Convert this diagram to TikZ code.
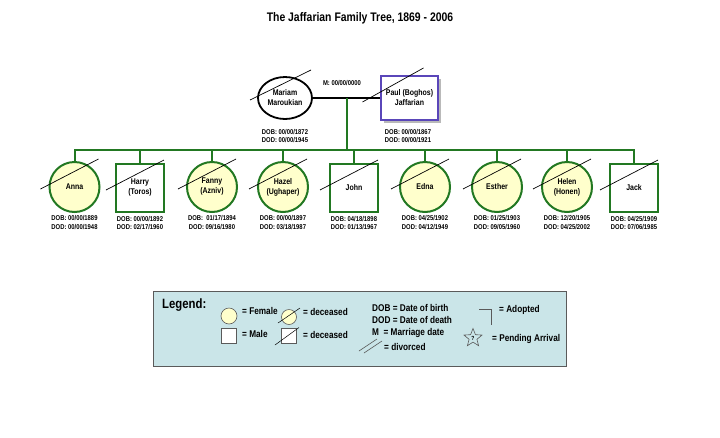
\documentclass[tikz,border=0pt]{standalone}
\usepackage{fontspec}
\setmainfont{Liberation Sans}[FakeStretch=0.84]
\usetikzlibrary{shapes.geometric, positioning, shadows}
\definecolor{kingreen}{RGB}{34,120,34}
\definecolor{femaleyellow}{RGB}{255,255,204}
\definecolor{paulblue}{RGB}{90,70,185}
\definecolor{legendbg}{RGB}{202,229,232}
\definecolor{legendline}{RGB}{90,90,90}

\begin{document}
\begin{tikzpicture}[x=1pt, y=-1pt,
    female/.style={circle, draw=kingreen, fill=femaleyellow, line width=2pt, minimum size=50pt, inner sep=0pt, align=center, font=\fontsize{8.3}{10}\selectfont\bfseries},
    male/.style={rectangle, draw=kingreen, fill=white, line width=2pt, minimum size=48pt, inner sep=0pt, align=center, font=\fontsize{8.3}{10}\selectfont\bfseries},
    dates/.style={font=\fontsize{7}{8.6}\selectfont\bfseries, align=center, inner sep=0pt},
    kin/.style={draw=kingreen, line width=2pt},
    slash/.style={black, line width=0.7pt},
    legtext/.style={anchor=west, inner sep=0pt, font=\fontsize{9.8}{12.3}\selectfont\bfseries, align=left},
    legsym/.style={draw=legendline, line width=0.6pt, inner sep=0pt}
]
    \useasboundingbox (0,0) rectangle (720,437);

    % Title
    \node[font=\fontsize{12.4}{14}\selectfont\bfseries] (title) at (360,18)
        {The Jaffarian Family Tree, 1869 - 2006};

    % Parents
    \node[ellipse, draw=black, fill=white, line width=1.8pt, minimum width=54pt, minimum height=42pt,
        inner sep=0pt, align=center, font=\fontsize{8.3}{10}\selectfont\bfseries] (mariam) at (285,98)
        {Mariam\\Maroukian};
    \node[rectangle, draw=paulblue, fill=white, line width=2pt, minimum width=57pt, minimum height=44pt,
        inner sep=0pt, align=center, font=\fontsize{8.3}{10}\selectfont\bfseries,
        drop shadow={shadow xshift=2.5pt, shadow yshift=-2.5pt, fill=gray!55, opacity=1}] (paul) at (409.5,98)
        {Paul (Boghos)\\Jaffarian};
    \node[dates] (mariamd) at (285,136) {DOB: 00/00/1872\\DOD: 00/00/1945};
    \node[dates] (pauld) at (408,136) {DOB: 00/00/1867\\DOD: 00/00/1921};

    % Marriage
    \draw[black, line width=2pt] (mariam) -- (paul);
    \node[dates] (mdate) at (342,83) {M: 00/00/0000};
    \coordinate (mid) at (347,98);
    \coordinate (bar) at (347,150);

    % Children
    \node[female] (anna)   at (74.5,187) {Anna};
    \node[male]   (harry)  at (140,188)  {Harry\\(Toros)};
    \node[female] (fanny)  at (212,187)  {Fanny\\(Azniv)};
    \node[female] (hazel)  at (283,187)  {Hazel\\(Ughaper)};
    \node[male]   (john)   at (354,188)  {John};
    \node[female] (edna)   at (425,187)  {Edna};
    \node[female] (esther) at (497,187)  {Esther};
    \node[female] (helen)  at (567,187)  {Helen\\(Honen)};
    \node[male]   (jack)   at (634,188)  {Jack};

    % Lines of descent
    \draw[kin] (mid) -- (bar);
    \draw[kin] (anna.north) |- (bar) -| (jack.north);
    \draw[kin] (bar -| harry) -- (harry.north);
    \draw[kin] (bar -| fanny) -- (fanny.north);
    \draw[kin] (bar -| hazel) -- (hazel.north);
    \draw[kin] (bar -| john) -- (john.north);
    \draw[kin] (bar -| edna) -- (edna.north);
    \draw[kin] (bar -| esther) -- (esther.north);
    \draw[kin] (bar -| helen) -- (helen.north);

    % Deceased marks
    \draw[slash] ([shift={(-35,2)}]mariam.center) -- ([shift={(26,-28)}]mariam.center);
    \draw[slash] ([shift={(-47,4)}]paul.center) -- ([shift={(14,-30)}]paul.center);
    \foreach \kid in {anna,harry,fanny,hazel,john,edna,esther,helen,jack}
        \draw[slash] ([shift={(-34,2)}]\kid.center) -- ([shift={(24,-28)}]\kid.center);

    % Dates
    \node[dates, below=2.5pt of anna]   (annad)   {DOB: 00/00/1889\\DOD: 00/00/1948};
    \node[dates, below=3pt of harry]    (harryd)  {DOB: 00/00/1892\\DOD: 02/17/1960};
    \node[dates, below=2.5pt of fanny]  (fannyd)  {DOB:\ \ 01/17/1894\\DOD: 09/16/1980};
    \node[dates, below=2.5pt of hazel]  (hazeld)  {DOB: 00/00/1897\\DOD: 03/18/1987};
    \node[dates, below=3pt of john]     (johnd)   {DOB: 04/18/1898\\DOD: 01/13/1967};
    \node[dates, below=2.5pt of edna]   (ednad)   {DOB: 04/25/1902\\DOD: 04/12/1949};
    \node[dates, below=2.5pt of esther] (estherd) {DOB: 01/25/1903\\DOD: 09/05/1960};
    \node[dates, below=2.5pt of helen]  (helend)  {DOB: 12/20/1905\\DOD: 04/25/2002};
    \node[dates, below=3pt of jack]     (jackd)   {DOB: 04/25/1909\\DOD: 07/06/1985};

    % Legend
    \node[rectangle, draw=legendline, fill=legendbg, line width=0.8pt, minimum width=413pt, minimum height=75pt]
        (legend) at (360,328.5) {};
    \node[anchor=west, inner sep=0pt, font=\fontsize{13.5}{15}\selectfont\bfseries] (legtitle) at (162,305) {Legend:};

    \node[legsym, circle, fill=femaleyellow, minimum size=16pt] (legfemale) at (229,316) {};
    \node[legtext] (femaletext) at (242,311) {= Female};
    \node[legsym, circle, fill=femaleyellow, minimum size=15pt] (legfdead) at (289,317) {};
    \draw[slash, line width=0.5pt] (278,323) -- (300,308);
    \node[legtext] (fdeadtext) at (303,312) {= deceased};

    \node[legsym, rectangle, fill=white, minimum size=15pt] (legmale) at (229,335.5) {};
    \node[legtext] (maletext) at (242,334) {= Male};
    \node[legsym, rectangle, fill=white, minimum size=15pt] (legmdead) at (289,336) {};
    \draw[slash, line width=0.5pt] (275,345) -- (299,327.5);
    \node[legtext] (mdeadtext) at (303,335) {= deceased};

    \node[legtext, anchor=north west] (abbrev) at (372,304)
        {DOB = Date of birth\\DOD = Date of death\\M\ \ = Marriage date};
    \draw[legendline, line width=0.6pt] (359,351) -- (377,339);
    \draw[legendline, line width=0.6pt] (364,353) -- (382,341);
    \node[legtext] (divtext) at (384,347) {= divorced};

    \draw[legendline, line width=0.6pt] (479,309) -- (491,309) -- (491,325);
    \node[legtext] (adopttext) at (499,310) {= Adopted};

    \node[legsym, star, star points=5, star point ratio=2.3, minimum size=19pt,
        font=\fontsize{6}{6}\selectfont\bfseries] (legstar) at (473,338) {?};
    \node[legtext] (pendtext) at (492,339) {= Pending Arrival};
\end{tikzpicture}
\end{document}
